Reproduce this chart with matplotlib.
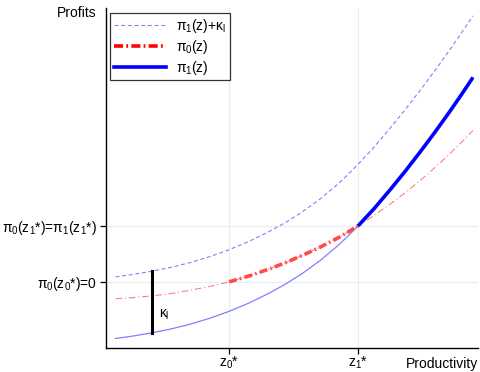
import numpy as np
import matplotlib
matplotlib.use("Agg")
import matplotlib.pyplot as plt
from matplotlib.lines import Line2D

plt.rcParams['font.family'] = ['Liberation Sans', 'DejaVu Sans']
plt.rcParams['mathtext.fontset'] = 'custom'
plt.rcParams['mathtext.rm'] = 'Liberation Sans'
plt.rcParams['mathtext.it'] = 'Liberation Sans'
plt.rcParams['mathtext.bf'] = 'Liberation Sans:bold'

# productivity grid (z0* = 1, z1* = 2) and profits
z   = np.array([0.12, 0.26, 0.40, 0.55, 0.70, 0.85, 1.00, 1.16, 1.32, 1.445, 1.57, 1.705,
                1.84, 1.92, 2.00, 2.125, 2.25, 2.365, 2.48, 2.595, 2.71, 2.80, 2.89])
pi1 = np.array([-1.01, -0.965, -0.91, -0.84, -0.754, -0.65, -0.526, -0.371, -0.19, -0.029, 0.154, 0.38,
                0.64, 0.814, 1.00, 1.31, 1.65, 1.975, 2.317, 2.671, 3.04, 3.34, 3.65])
pi0 = np.array([-0.30, -0.28, -0.25, -0.207, -0.15, -0.08, 0.00, 0.11, 0.238, 0.35, 0.475, 0.62,
                0.78, 0.888, 1.00, 1.19, 1.39, 1.593, 1.808, 2.04, 2.285, 2.49, 2.70])
kappa = 1.10
z0_star, z1_star = 1.0, 2.0
kappa_at = 0.40

xticks = [z0_star, z1_star]
xtick_labels = [r'z$_0$*', r'z$_1$*']
yticks = [0.0, 1.0]
ytick_labels = [r'$\pi_0$(z$_0$*)=0', r'$\pi_0$(z$_1$*)=$\pi_1$(z$_1$*)']

fig = plt.figure(figsize=(4.8, 3.72), dpi=100)
ax = fig.add_axes([0.221, 0.0645, 0.775, 0.914])

light_blue = '#8080ff'
light_red = '#ff8080'
mid_red = '#ff4a4a'

# thin full curves
ax.plot(z, pi1 + kappa, color=light_blue, lw=0.8, ls=(0, (3.6, 2.4)))
ax.plot(z, pi0, color=light_red, lw=0.8, ls=(0, (6, 2.5, 1, 2.5)))
ax.plot(z, pi1, color=light_blue, lw=0.9)

# thick segments where each regime is chosen
mid = (z >= z0_star) & (z <= z1_star)
high = z >= z1_star
ax.plot(z[mid], pi0[mid], color=mid_red, lw=2.6, ls=(0, (2.2, 0.9, 0.45, 0.9)))
ax.plot(z[high], pi1[high], color='blue', lw=2.6, solid_capstyle='butt')

# fixed cost bar
i = np.where(z == kappa_at)[0][0]
ax.plot([z[i], z[i]], [pi1[i], pi1[i] + kappa], color='black', lw=2.2)
ax.text(z[i] + 0.06, -0.59, r'$\kappa_l$', fontsize=10, va='center')

ax.set_xlim(0.047, 2.93)
ax.set_ylim(-1.18, 4.89)
ax.set_xticks(xticks)
ax.set_xticklabels(xtick_labels, fontsize=10)
ax.set_yticks(yticks)
ax.set_yticklabels(ytick_labels, fontsize=10)
ax.tick_params(direction='out', length=4, width=0.9)
ax.tick_params(axis='x', pad=1)
ax.tick_params(axis='y', pad=2.5)
ax.grid(True, color='#e6eded', lw=0.8)
ax.set_axisbelow(True)
for s in ['top', 'right']:
    ax.spines[s].set_visible(False)
for s in ['left', 'bottom']:
    ax.spines[s].set_linewidth(1.0)

fig.text(97 / 480, 1 - 13 / 372, 'Profits', ha='right', va='center', fontsize=10)
fig.text(478 / 480, 1 - 364 / 372, 'Productivity', ha='right', va='center', fontsize=10)

handles = [
    Line2D([], [], color=light_blue, lw=0.8, ls=(0, (3.6, 2.4))),
    Line2D([], [], color='red', lw=2.6, ls=(0, (2.5, 0.9, 0.5, 0.9))),
    Line2D([], [], color='blue', lw=2.6),
]
labels = [r'$\pi_1$(z)+$\kappa_l$', r'$\pi_0$(z)', r'$\pi_1$(z)']
leg = ax.legend(handles, labels, loc='upper left', bbox_to_anchor=(0.011, 0.985),
                borderaxespad=0, fontsize=10, frameon=True, fancybox=False,
                edgecolor='black', handlelength=3.8, handletextpad=0.7,
                borderpad=0.25, labelspacing=0.22)
leg.get_frame().set_linewidth(0.9)

fig.savefig('out.png', dpi=100)
